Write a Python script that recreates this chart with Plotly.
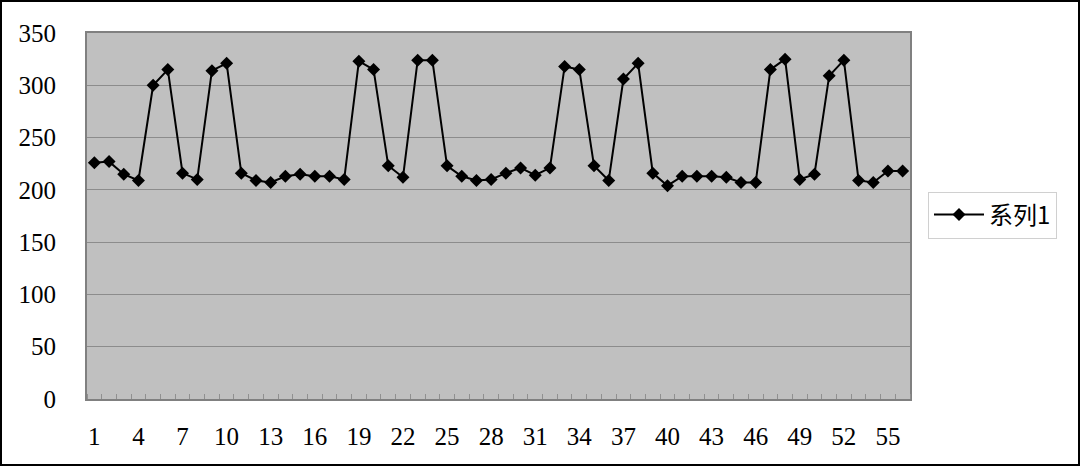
import plotly.graph_objects as go

categories = list(range(1, 57))
series_name = "系列1"
values = [226, 227, 215, 209, 300, 315, 216, 210, 314, 321,
          216, 209, 207, 213, 215, 213, 213, 210, 323, 315,
          223, 212, 324, 324, 223, 213, 209, 210, 216, 221,
          214, 221, 318, 315, 223, 209, 306, 321, 216, 204,
          213, 213, 213, 212, 207, 207, 315, 325, 210, 215,
          309, 324, 209, 207, 218, 218]
x_tick_labels = list(range(1, 57, 3))
y_tick_values = list(range(0, 351, 50))

W, H = 1080, 466
L, R, T, B = 87, 170, 33, 67
pw, ph = W - L - R, H - T - B

fig = go.Figure()
fig.add_trace(go.Scatter(
    x=categories, y=values, name=series_name, mode="lines+markers",
    line=dict(color="black", width=2),
    marker=dict(symbol="diamond", size=10, color="black"),
))

font_family = "Liberation Serif, DejaVu Serif, Noto Sans CJK SC"
fig.update_layout(
    width=W, height=H,
    margin=dict(l=L, r=R, t=T, b=B, pad=0),
    paper_bgcolor="white",
    plot_bgcolor="#C0C0C0",
    showlegend=True,
    font=dict(family=font_family, size=25, color="black"),
    legend=dict(
        x=(928 - L) / pw, y=(399 - 215) / ph, xanchor="left", yanchor="middle",
        bordercolor="#D0D0D0", borderwidth=1, bgcolor="white",
        itemwidth=50,
        font=dict(family="Noto Sans CJK SC, Liberation Serif", size=24),
    ),
    xaxis=dict(
        range=[0.5, 56.5], tickmode="array", tickvals=x_tick_labels,
        ticktext=[str(v) for v in x_tick_labels], ticks="",
        showgrid=False, zeroline=False,
        showline=True, linecolor="#808080", linewidth=2, mirror=True,
        ticklabelstandoff=14,
        minor=dict(tick0=0.5, dtick=1, ticks="inside", ticklen=5,
                   tickcolor="#909090", tickwidth=1, showgrid=False),
    ),
    yaxis=dict(
        range=[0, 350], tickmode="array", tickvals=y_tick_values,
        ticks="", showgrid=True, gridcolor="#8C8C8C", gridwidth=1,
        zeroline=False, showline=True, linecolor="#808080", linewidth=2,
        mirror=True, ticklabelstandoff=24,
    ),
    shapes=[dict(
        type="rect", xref="paper", yref="paper",
        x0=-(L - 1) / pw, x1=1 + (R - 1) / pw,
        y0=-(B - 1) / ph, y1=1 + (T - 1) / ph,
        line=dict(color="black", width=2), layer="above",
    )],
)

fig.write_html("out.html", config={"displayModeBar": False},
               post_script="document.body.style.margin='0px';")
